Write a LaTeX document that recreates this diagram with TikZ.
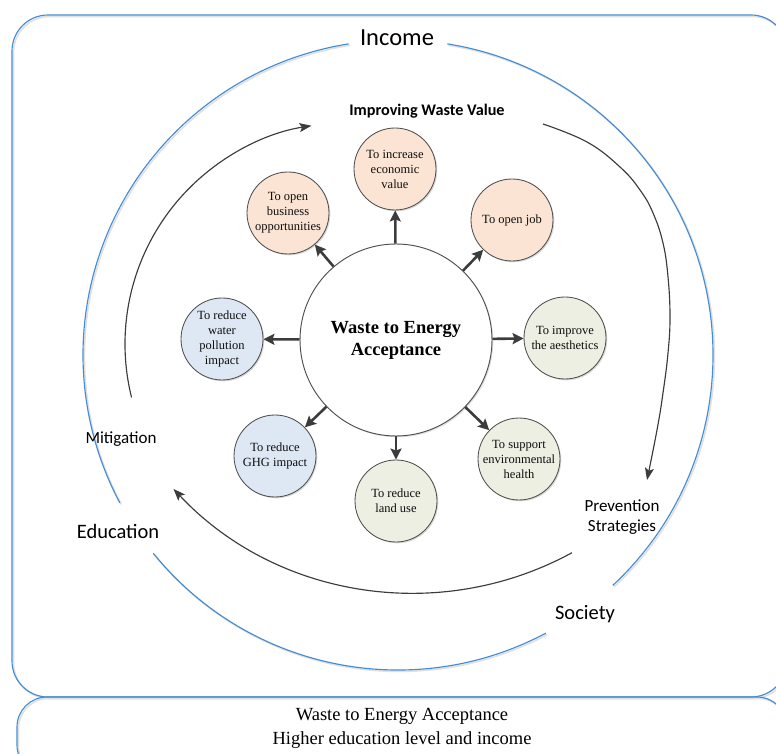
\documentclass[tikz,border=0pt]{standalone}
\usepackage{fontspec}
\setmainfont{Liberation Serif}
\newfontfamily\calfont{Carlito}
\usetikzlibrary{arrows.meta,shadows}
\definecolor{wblue}{RGB}{68,140,212}
\definecolor{peach}{RGB}{251,228,212}
\definecolor{lblue}{RGB}{221,232,244}
\definecolor{lgreen}{RGB}{236,239,226}
\definecolor{dgray}{RGB}{60,60,60}
\definecolor{cedge}{RGB}{80,80,80}
\begin{document}
\begin{tikzpicture}[x=1pt,y=1pt,
  blueline/.style={draw=wblue, line width=1.15pt},
  shadowline/.style={draw=black!12, line width=1.6pt},
  goal/.style={circle, draw=cedge, line width=0.85pt, minimum size=82pt, inner sep=0pt, align=center,
    font=\fontsize{12.5}{15}\selectfont, text=black!95,
    drop shadow={shadow xshift=1.3pt, shadow yshift=-1.3pt, opacity=0.3}},
  hub/.style={circle, draw=cedge, line width=0.95pt, fill=white, minimum size=192pt, inner sep=0pt, align=center,
    font=\fontsize{18.5}{22}\selectfont\bfseries,
    drop shadow={shadow xshift=1.3pt, shadow yshift=-1.3pt, opacity=0.25}},
  spoke/.style={draw=dgray, line width=2.6pt, -{Stealth[length=11pt,width=11pt,inset=2pt]}},
  looparrow/.style={draw=dgray, line width=1.15pt, -{Stealth[length=12pt,width=9pt,inset=2.5pt]}},
  lbl/.style={font=\calfont\fontsize{17}{20}\selectfont, align=center},
  biglbl/.style={font=\calfont\fontsize{20.5}{24}\selectfont}]

\clip (0,0) rectangle (776,753);

% outer frames
\draw[shadowline, rounded corners=36pt] (13.5,54.5) rectangle (788.5,736.5);
\draw[blueline, rounded corners=36pt] (12,56) rectangle (787,738);
\draw[shadowline, rounded corners=30pt] (18.5,-23.5) rectangle (788.5,54.5);
\draw[blueline, rounded corners=30pt] (17,-22) rectangle (787,56);

% big blue ring with gaps at labels
\begin{scope}[shift={(1.4,-1.4)}]
\draw[shadowline] (398,398) ++(99:315) arc[start angle=99, end angle=208, radius=315];
\draw[shadowline] (398,398) ++(219:315) arc[start angle=219, end angle=298, radius=315];
\draw[shadowline] (398,398) ++(313:315) arc[start angle=313, end angle=441, radius=315];
\end{scope}
\draw[blueline] (398,398) ++(99:315) arc[start angle=99, end angle=208, radius=315];
\draw[blueline] (398,398) ++(219:315) arc[start angle=219, end angle=298, radius=315];
\draw[blueline] (398,398) ++(313:315) arc[start angle=313, end angle=441, radius=315];

% cycle arrows
\draw[looparrow] (346,409) ++(194:221) arc[start angle=194, end angle=99, radius=221];
\draw[looparrow] plot[smooth, tension=0.7] coordinates {(543,629) (587,611) (620,586) (640,563) (653,540) (663,510) (668,476) (670,436) (668,400) (663,360) (657,323) (647,273)};
\draw[looparrow] (414,490) ++(-61.4:330) arc[start angle=-61.4, end angle=-136.8, radius=330];

% hub and goals
\node[hub] (hub) at (396,413) {Waste to Energy\\Acceptance};
\node[goal, fill=peach] (econ) at (395,584) {To increase\\economic\\value};
\node[goal, fill=peach] (biz) at (288,540) {To open\\business\\opportunities};
\node[goal, fill=peach] (job) at (512,533) {To open job};
\node[goal, fill=lblue] (water) at (222,414) {To reduce\\water\\pollution\\impact};
\node[goal, fill=lgreen] (aes) at (565,415) {To improve\\the aesthetics};
\node[goal, fill=lblue] (ghg) at (275,297) {To reduce\\GHG impact};
\node[goal, fill=lgreen] (land) at (396,252) {To reduce\\land use};
\node[goal, fill=lgreen] (env) at (519,294) {To support\\environmental\\health};

\foreach \t in {econ,biz,job,water,aes,ghg,land,env}
  \draw[spoke] (hub) -- (\t);

% labels
\node[font=\calfont\fontsize{24.5}{28}\selectfont] (income) at (397,715) {Income};
\node[font=\calfont\bfseries\fontsize{16.2}{19}\selectfont] (iwv) at (427,642) {Improving Waste Value};
\node[lbl] (mit) at (121,314) {Mitigation};
\node[biglbl] (edu) at (118,222) {Education};
\node[lbl] (prev) at (622,236) {Prevention\\Strategies};
\node[biglbl] (soc) at (585,139) {Society};
\node[font=\fontsize{18.5}{24}\selectfont, align=center] (foot) at (402,25) {Waste to Energy Acceptance\\Higher education level and income};
\end{tikzpicture}
\end{document}
